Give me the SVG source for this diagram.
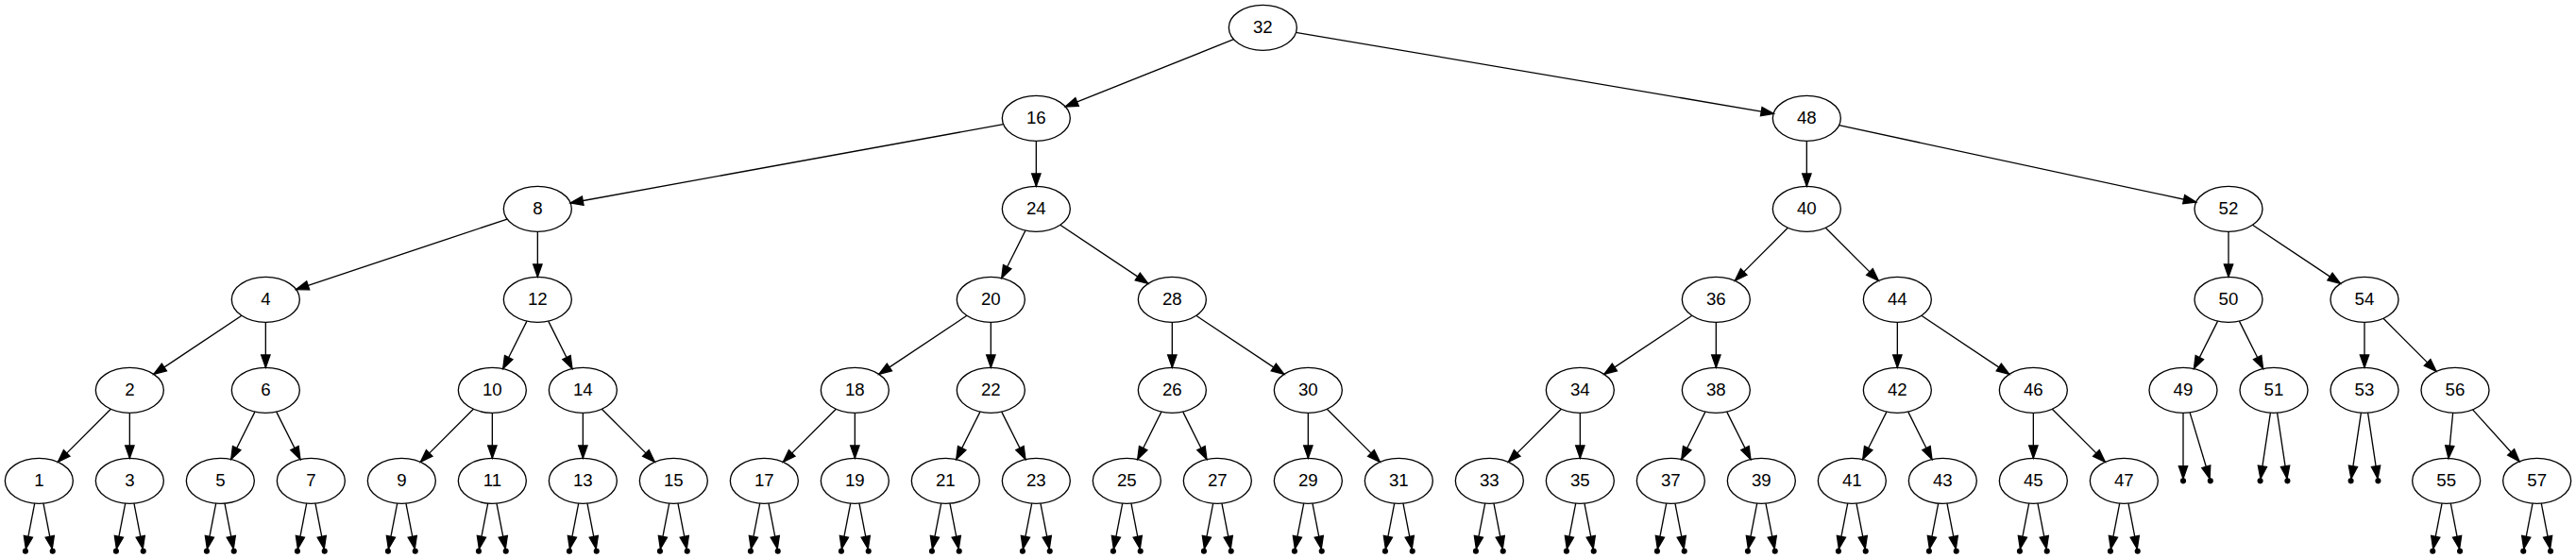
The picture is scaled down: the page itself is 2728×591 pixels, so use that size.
<svg xmlns="http://www.w3.org/2000/svg" width="2728" height="591" viewBox="0 0 2728 591">
<style>
.e{stroke:#000;stroke-width:1;fill:none;marker-end:url(#ah)}
.node ellipse{fill:none;stroke:#000;stroke-width:1}
.node text{font-family:"Liberation Sans",Arial,sans-serif;font-size:14px;text-anchor:middle;fill:#000}
.pt circle{fill:#000;stroke:#000;stroke-width:1}
</style>
<defs>
<marker id="ah" markerUnits="userSpaceOnUse" markerWidth="12" markerHeight="9" refX="10" refY="0" orient="auto" overflow="visible">
<path d="M0,-3.5 L10,0 L0,3.5 Z" fill="#000" stroke="#000" stroke-width="1"/>
</marker>
</defs>
<rect x="0" y="0" width="2728" height="591" fill="#fff"/>
<g transform="scale(1.3333333)">
<g id="connectors">
<line class="e" x1="979.85" y1="31.26" x2="846.15" y2="84.74"/>
<line class="e" x1="1029.19" y1="25.73" x2="1408.81" y2="90.27"/>
<line class="e" x1="796.95" y1="98.74" x2="453.05" y2="161.26"/>
<line class="e" x1="823" y1="112" x2="823" y2="148"/>
<line class="e" x1="1435" y1="112" x2="1435" y2="148"/>
<line class="e" x1="1460.7" y1="99.52" x2="1744.3" y2="160.48"/>
<line class="e" x1="402.85" y1="174.05" x2="235.15" y2="229.95"/>
<line class="e" x1="427" y1="184" x2="427" y2="220"/>
<line class="e" x1="814.46" y1="183.08" x2="795.54" y2="220.92"/>
<line class="e" x1="842.09" y1="178.73" x2="911.91" y2="225.27"/>
<line class="e" x1="1420.02" y1="180.98" x2="1377.98" y2="223.02"/>
<line class="e" x1="1449.98" y1="180.98" x2="1492.02" y2="223.02"/>
<line class="e" x1="1770" y1="184" x2="1770" y2="220"/>
<line class="e" x1="1789.09" y1="178.73" x2="1858.91" y2="225.27"/>
<line class="e" x1="191.91" y1="250.73" x2="122.09" y2="297.27"/>
<line class="e" x1="211" y1="256" x2="211" y2="292"/>
<line class="e" x1="418.46" y1="255.08" x2="399.54" y2="292.92"/>
<line class="e" x1="435.54" y1="255.08" x2="454.46" y2="292.92"/>
<line class="e" x1="767.91" y1="250.73" x2="698.09" y2="297.27"/>
<line class="e" x1="787" y1="256" x2="787" y2="292"/>
<line class="e" x1="931" y1="256" x2="931" y2="292"/>
<line class="e" x1="950.09" y1="250.73" x2="1019.91" y2="297.27"/>
<line class="e" x1="1343.91" y1="250.73" x2="1274.09" y2="297.27"/>
<line class="e" x1="1363" y1="256" x2="1363" y2="292"/>
<line class="e" x1="1507" y1="256" x2="1507" y2="292"/>
<line class="e" x1="1526.09" y1="250.73" x2="1595.91" y2="297.27"/>
<line class="e" x1="1761.46" y1="255.08" x2="1742.54" y2="292.92"/>
<line class="e" x1="1778.54" y1="255.08" x2="1797.46" y2="292.92"/>
<line class="e" x1="1878" y1="256" x2="1878" y2="292"/>
<line class="e" x1="1892.98" y1="252.98" x2="1935.02" y2="295.02"/>
<line class="e" x1="88.02" y1="324.98" x2="45.98" y2="367.02"/>
<line class="e" x1="103" y1="328" x2="103" y2="364"/>
<line class="e" x1="202.46" y1="327.08" x2="183.54" y2="364.92"/>
<line class="e" x1="219.54" y1="327.08" x2="238.46" y2="364.92"/>
<line class="e" x1="376.02" y1="324.98" x2="333.98" y2="367.02"/>
<line class="e" x1="391" y1="328" x2="391" y2="364"/>
<line class="e" x1="463" y1="328" x2="463" y2="364"/>
<line class="e" x1="477.98" y1="324.98" x2="520.02" y2="367.02"/>
<line class="e" x1="664.02" y1="324.98" x2="621.98" y2="367.02"/>
<line class="e" x1="679" y1="328" x2="679" y2="364"/>
<line class="e" x1="778.46" y1="327.08" x2="759.54" y2="364.92"/>
<line class="e" x1="795.54" y1="327.08" x2="814.46" y2="364.92"/>
<line class="e" x1="922.46" y1="327.08" x2="903.54" y2="364.92"/>
<line class="e" x1="939.54" y1="327.08" x2="958.46" y2="364.92"/>
<line class="e" x1="1039" y1="328" x2="1039" y2="364"/>
<line class="e" x1="1053.98" y1="324.98" x2="1096.02" y2="367.02"/>
<line class="e" x1="1240.02" y1="324.98" x2="1197.98" y2="367.02"/>
<line class="e" x1="1255" y1="328" x2="1255" y2="364"/>
<line class="e" x1="1354.46" y1="327.08" x2="1335.54" y2="364.92"/>
<line class="e" x1="1371.54" y1="327.08" x2="1390.46" y2="364.92"/>
<line class="e" x1="1498.46" y1="327.08" x2="1479.54" y2="364.92"/>
<line class="e" x1="1515.54" y1="327.08" x2="1534.46" y2="364.92"/>
<line class="e" x1="1615" y1="328" x2="1615" y2="364"/>
<line class="e" x1="1629.98" y1="324.98" x2="1672.02" y2="367.02"/>
<line class="e" x1="1948.25" y1="327.96" x2="1944.75" y2="364.04"/>
<line class="e" x1="1963.92" y1="325.42" x2="2001.08" y2="366.58"/>
<line class="e" x1="1734" y1="328" x2="1734" y2="380.2"/>
<line class="e" x1="1739.3" y1="327.65" x2="1755.08" y2="380.28"/>
<line class="e" x1="1803.31" y1="327.91" x2="1795.47" y2="380.22"/>
<line class="e" x1="1808.69" y1="327.91" x2="1816.53" y2="380.22"/>
<line class="e" x1="1875.31" y1="327.91" x2="1867.47" y2="380.22"/>
<line class="e" x1="1880.69" y1="327.91" x2="1888.53" y2="380.22"/>
<line class="e" x1="27.54" y1="399.85" x2="20.54" y2="436.03"/><line class="e" x1="34.46" y1="399.85" x2="41.46" y2="436.03"/>
<line class="e" x1="99.54" y1="399.85" x2="92.54" y2="436.03"/><line class="e" x1="106.46" y1="399.85" x2="113.46" y2="436.03"/>
<line class="e" x1="171.54" y1="399.85" x2="164.54" y2="436.03"/><line class="e" x1="178.46" y1="399.85" x2="185.46" y2="436.03"/>
<line class="e" x1="243.54" y1="399.85" x2="236.54" y2="436.03"/><line class="e" x1="250.46" y1="399.85" x2="257.46" y2="436.03"/>
<line class="e" x1="315.54" y1="399.85" x2="308.54" y2="436.03"/><line class="e" x1="322.46" y1="399.85" x2="329.46" y2="436.03"/>
<line class="e" x1="387.54" y1="399.85" x2="380.54" y2="436.03"/><line class="e" x1="394.46" y1="399.85" x2="401.46" y2="436.03"/>
<line class="e" x1="459.54" y1="399.85" x2="452.54" y2="436.03"/><line class="e" x1="466.46" y1="399.85" x2="473.46" y2="436.03"/>
<line class="e" x1="531.54" y1="399.85" x2="524.54" y2="436.03"/><line class="e" x1="538.46" y1="399.85" x2="545.46" y2="436.03"/>
<line class="e" x1="603.54" y1="399.85" x2="596.54" y2="436.03"/><line class="e" x1="610.46" y1="399.85" x2="617.46" y2="436.03"/>
<line class="e" x1="675.54" y1="399.85" x2="668.54" y2="436.03"/><line class="e" x1="682.46" y1="399.85" x2="689.46" y2="436.03"/>
<line class="e" x1="747.54" y1="399.85" x2="740.54" y2="436.03"/><line class="e" x1="754.46" y1="399.85" x2="761.46" y2="436.03"/>
<line class="e" x1="819.54" y1="399.85" x2="812.54" y2="436.03"/><line class="e" x1="826.46" y1="399.85" x2="833.46" y2="436.03"/>
<line class="e" x1="891.54" y1="399.85" x2="884.54" y2="436.03"/><line class="e" x1="898.46" y1="399.85" x2="905.46" y2="436.03"/>
<line class="e" x1="963.54" y1="399.85" x2="956.54" y2="436.03"/><line class="e" x1="970.46" y1="399.85" x2="977.46" y2="436.03"/>
<line class="e" x1="1035.54" y1="399.85" x2="1028.54" y2="436.03"/><line class="e" x1="1042.46" y1="399.85" x2="1049.46" y2="436.03"/>
<line class="e" x1="1107.54" y1="399.85" x2="1100.54" y2="436.03"/><line class="e" x1="1114.46" y1="399.85" x2="1121.46" y2="436.03"/>
<line class="e" x1="1179.54" y1="399.85" x2="1172.54" y2="436.03"/><line class="e" x1="1186.46" y1="399.85" x2="1193.46" y2="436.03"/>
<line class="e" x1="1251.54" y1="399.85" x2="1244.54" y2="436.03"/><line class="e" x1="1258.46" y1="399.85" x2="1265.46" y2="436.03"/>
<line class="e" x1="1323.54" y1="399.85" x2="1316.54" y2="436.03"/><line class="e" x1="1330.46" y1="399.85" x2="1337.46" y2="436.03"/>
<line class="e" x1="1395.54" y1="399.85" x2="1388.54" y2="436.03"/><line class="e" x1="1402.46" y1="399.85" x2="1409.46" y2="436.03"/>
<line class="e" x1="1467.54" y1="399.85" x2="1460.54" y2="436.03"/><line class="e" x1="1474.46" y1="399.85" x2="1481.46" y2="436.03"/>
<line class="e" x1="1539.54" y1="399.85" x2="1532.54" y2="436.03"/><line class="e" x1="1546.46" y1="399.85" x2="1553.46" y2="436.03"/>
<line class="e" x1="1611.54" y1="399.85" x2="1604.54" y2="436.03"/><line class="e" x1="1618.46" y1="399.85" x2="1625.46" y2="436.03"/>
<line class="e" x1="1683.54" y1="399.85" x2="1676.54" y2="436.03"/><line class="e" x1="1690.46" y1="399.85" x2="1697.46" y2="436.03"/>
<line class="e" x1="1939.54" y1="399.85" x2="1932.54" y2="436.03"/><line class="e" x1="1946.46" y1="399.85" x2="1953.46" y2="436.03"/>
<line class="e" x1="2011.54" y1="399.85" x2="2004.54" y2="436.03"/><line class="e" x1="2018.46" y1="399.85" x2="2025.46" y2="436.03"/>
</g>
<g id="n32" class="node"><ellipse cx="1003" cy="22" rx="27" ry="18"/><text x="1003" y="26.2">32</text></g>
<g id="n16" class="node"><ellipse cx="823" cy="94" rx="27" ry="18"/><text x="823" y="98.2">16</text></g>
<g id="n48" class="node"><ellipse cx="1435" cy="94" rx="27" ry="18"/><text x="1435" y="98.2">48</text></g>
<g id="n8" class="node"><ellipse cx="427" cy="166" rx="27" ry="18"/><text x="427" y="170.2">8</text></g>
<g id="n24" class="node"><ellipse cx="823" cy="166" rx="27" ry="18"/><text x="823" y="170.2">24</text></g>
<g id="n40" class="node"><ellipse cx="1435" cy="166" rx="27" ry="18"/><text x="1435" y="170.2">40</text></g>
<g id="n52" class="node"><ellipse cx="1770" cy="166" rx="27" ry="18"/><text x="1770" y="170.2">52</text></g>
<g id="n4" class="node"><ellipse cx="211" cy="238" rx="27" ry="18"/><text x="211" y="242.2">4</text></g>
<g id="n12" class="node"><ellipse cx="427" cy="238" rx="27" ry="18"/><text x="427" y="242.2">12</text></g>
<g id="n20" class="node"><ellipse cx="787" cy="238" rx="27" ry="18"/><text x="787" y="242.2">20</text></g>
<g id="n28" class="node"><ellipse cx="931" cy="238" rx="27" ry="18"/><text x="931" y="242.2">28</text></g>
<g id="n36" class="node"><ellipse cx="1363" cy="238" rx="27" ry="18"/><text x="1363" y="242.2">36</text></g>
<g id="n44" class="node"><ellipse cx="1507" cy="238" rx="27" ry="18"/><text x="1507" y="242.2">44</text></g>
<g id="n50" class="node"><ellipse cx="1770" cy="238" rx="27" ry="18"/><text x="1770" y="242.2">50</text></g>
<g id="n54" class="node"><ellipse cx="1878" cy="238" rx="27" ry="18"/><text x="1878" y="242.2">54</text></g>
<g id="n2" class="node"><ellipse cx="103" cy="310" rx="27" ry="18"/><text x="103" y="314.2">2</text></g>
<g id="n6" class="node"><ellipse cx="211" cy="310" rx="27" ry="18"/><text x="211" y="314.2">6</text></g>
<g id="n10" class="node"><ellipse cx="391" cy="310" rx="27" ry="18"/><text x="391" y="314.2">10</text></g>
<g id="n14" class="node"><ellipse cx="463" cy="310" rx="27" ry="18"/><text x="463" y="314.2">14</text></g>
<g id="n18" class="node"><ellipse cx="679" cy="310" rx="27" ry="18"/><text x="679" y="314.2">18</text></g>
<g id="n22" class="node"><ellipse cx="787" cy="310" rx="27" ry="18"/><text x="787" y="314.2">22</text></g>
<g id="n26" class="node"><ellipse cx="931" cy="310" rx="27" ry="18"/><text x="931" y="314.2">26</text></g>
<g id="n30" class="node"><ellipse cx="1039" cy="310" rx="27" ry="18"/><text x="1039" y="314.2">30</text></g>
<g id="n34" class="node"><ellipse cx="1255" cy="310" rx="27" ry="18"/><text x="1255" y="314.2">34</text></g>
<g id="n38" class="node"><ellipse cx="1363" cy="310" rx="27" ry="18"/><text x="1363" y="314.2">38</text></g>
<g id="n42" class="node"><ellipse cx="1507" cy="310" rx="27" ry="18"/><text x="1507" y="314.2">42</text></g>
<g id="n46" class="node"><ellipse cx="1615" cy="310" rx="27" ry="18"/><text x="1615" y="314.2">46</text></g>
<g id="n49" class="node"><ellipse cx="1734" cy="310" rx="27" ry="18"/><text x="1734" y="314.2">49</text></g>
<g id="n51" class="node"><ellipse cx="1806" cy="310" rx="27" ry="18"/><text x="1806" y="314.2">51</text></g>
<g id="n53" class="node"><ellipse cx="1878" cy="310" rx="27" ry="18"/><text x="1878" y="314.2">53</text></g>
<g id="n56" class="node"><ellipse cx="1950" cy="310" rx="27" ry="18"/><text x="1950" y="314.2">56</text></g>
<g id="n1" class="node"><ellipse cx="31" cy="382" rx="27" ry="18"/><text x="31" y="386.2">1</text></g>
<g id="n3" class="node"><ellipse cx="103" cy="382" rx="27" ry="18"/><text x="103" y="386.2">3</text></g>
<g id="n5" class="node"><ellipse cx="175" cy="382" rx="27" ry="18"/><text x="175" y="386.2">5</text></g>
<g id="n7" class="node"><ellipse cx="247" cy="382" rx="27" ry="18"/><text x="247" y="386.2">7</text></g>
<g id="n9" class="node"><ellipse cx="319" cy="382" rx="27" ry="18"/><text x="319" y="386.2">9</text></g>
<g id="n11" class="node"><ellipse cx="391" cy="382" rx="27" ry="18"/><text x="391" y="386.2">11</text></g>
<g id="n13" class="node"><ellipse cx="463" cy="382" rx="27" ry="18"/><text x="463" y="386.2">13</text></g>
<g id="n15" class="node"><ellipse cx="535" cy="382" rx="27" ry="18"/><text x="535" y="386.2">15</text></g>
<g id="n17" class="node"><ellipse cx="607" cy="382" rx="27" ry="18"/><text x="607" y="386.2">17</text></g>
<g id="n19" class="node"><ellipse cx="679" cy="382" rx="27" ry="18"/><text x="679" y="386.2">19</text></g>
<g id="n21" class="node"><ellipse cx="751" cy="382" rx="27" ry="18"/><text x="751" y="386.2">21</text></g>
<g id="n23" class="node"><ellipse cx="823" cy="382" rx="27" ry="18"/><text x="823" y="386.2">23</text></g>
<g id="n25" class="node"><ellipse cx="895" cy="382" rx="27" ry="18"/><text x="895" y="386.2">25</text></g>
<g id="n27" class="node"><ellipse cx="967" cy="382" rx="27" ry="18"/><text x="967" y="386.2">27</text></g>
<g id="n29" class="node"><ellipse cx="1039" cy="382" rx="27" ry="18"/><text x="1039" y="386.2">29</text></g>
<g id="n31" class="node"><ellipse cx="1111" cy="382" rx="27" ry="18"/><text x="1111" y="386.2">31</text></g>
<g id="n33" class="node"><ellipse cx="1183" cy="382" rx="27" ry="18"/><text x="1183" y="386.2">33</text></g>
<g id="n35" class="node"><ellipse cx="1255" cy="382" rx="27" ry="18"/><text x="1255" y="386.2">35</text></g>
<g id="n37" class="node"><ellipse cx="1327" cy="382" rx="27" ry="18"/><text x="1327" y="386.2">37</text></g>
<g id="n39" class="node"><ellipse cx="1399" cy="382" rx="27" ry="18"/><text x="1399" y="386.2">39</text></g>
<g id="n41" class="node"><ellipse cx="1471" cy="382" rx="27" ry="18"/><text x="1471" y="386.2">41</text></g>
<g id="n43" class="node"><ellipse cx="1543" cy="382" rx="27" ry="18"/><text x="1543" y="386.2">43</text></g>
<g id="n45" class="node"><ellipse cx="1615" cy="382" rx="27" ry="18"/><text x="1615" y="386.2">45</text></g>
<g id="n47" class="node"><ellipse cx="1687" cy="382" rx="27" ry="18"/><text x="1687" y="386.2">47</text></g>
<g id="n55" class="node"><ellipse cx="1943" cy="382" rx="27" ry="18"/><text x="1943" y="386.2">55</text></g>
<g id="n57" class="node"><ellipse cx="2015" cy="382" rx="27" ry="18"/><text x="2015" y="386.2">57</text></g>
<g id="nil49" class="pt"><circle cx="1734" cy="382" r="1.8"/><circle cx="1755.6" cy="382" r="1.8"/></g>
<g id="nil51" class="pt"><circle cx="1795.2" cy="382" r="1.8"/><circle cx="1816.8" cy="382" r="1.8"/></g>
<g id="nil53" class="pt"><circle cx="1867.2" cy="382" r="1.8"/><circle cx="1888.8" cy="382" r="1.8"/></g>
<g id="nil1" class="pt"><circle cx="20.2" cy="437.8" r="1.8"/><circle cx="41.8" cy="437.8" r="1.8"/></g>
<g id="nil3" class="pt"><circle cx="92.2" cy="437.8" r="1.8"/><circle cx="113.8" cy="437.8" r="1.8"/></g>
<g id="nil5" class="pt"><circle cx="164.2" cy="437.8" r="1.8"/><circle cx="185.8" cy="437.8" r="1.8"/></g>
<g id="nil7" class="pt"><circle cx="236.2" cy="437.8" r="1.8"/><circle cx="257.8" cy="437.8" r="1.8"/></g>
<g id="nil9" class="pt"><circle cx="308.2" cy="437.8" r="1.8"/><circle cx="329.8" cy="437.8" r="1.8"/></g>
<g id="nil11" class="pt"><circle cx="380.2" cy="437.8" r="1.8"/><circle cx="401.8" cy="437.8" r="1.8"/></g>
<g id="nil13" class="pt"><circle cx="452.2" cy="437.8" r="1.8"/><circle cx="473.8" cy="437.8" r="1.8"/></g>
<g id="nil15" class="pt"><circle cx="524.2" cy="437.8" r="1.8"/><circle cx="545.8" cy="437.8" r="1.8"/></g>
<g id="nil17" class="pt"><circle cx="596.2" cy="437.8" r="1.8"/><circle cx="617.8" cy="437.8" r="1.8"/></g>
<g id="nil19" class="pt"><circle cx="668.2" cy="437.8" r="1.8"/><circle cx="689.8" cy="437.8" r="1.8"/></g>
<g id="nil21" class="pt"><circle cx="740.2" cy="437.8" r="1.8"/><circle cx="761.8" cy="437.8" r="1.8"/></g>
<g id="nil23" class="pt"><circle cx="812.2" cy="437.8" r="1.8"/><circle cx="833.8" cy="437.8" r="1.8"/></g>
<g id="nil25" class="pt"><circle cx="884.2" cy="437.8" r="1.8"/><circle cx="905.8" cy="437.8" r="1.8"/></g>
<g id="nil27" class="pt"><circle cx="956.2" cy="437.8" r="1.8"/><circle cx="977.8" cy="437.8" r="1.8"/></g>
<g id="nil29" class="pt"><circle cx="1028.2" cy="437.8" r="1.8"/><circle cx="1049.8" cy="437.8" r="1.8"/></g>
<g id="nil31" class="pt"><circle cx="1100.2" cy="437.8" r="1.8"/><circle cx="1121.8" cy="437.8" r="1.8"/></g>
<g id="nil33" class="pt"><circle cx="1172.2" cy="437.8" r="1.8"/><circle cx="1193.8" cy="437.8" r="1.8"/></g>
<g id="nil35" class="pt"><circle cx="1244.2" cy="437.8" r="1.8"/><circle cx="1265.8" cy="437.8" r="1.8"/></g>
<g id="nil37" class="pt"><circle cx="1316.2" cy="437.8" r="1.8"/><circle cx="1337.8" cy="437.8" r="1.8"/></g>
<g id="nil39" class="pt"><circle cx="1388.2" cy="437.8" r="1.8"/><circle cx="1409.8" cy="437.8" r="1.8"/></g>
<g id="nil41" class="pt"><circle cx="1460.2" cy="437.8" r="1.8"/><circle cx="1481.8" cy="437.8" r="1.8"/></g>
<g id="nil43" class="pt"><circle cx="1532.2" cy="437.8" r="1.8"/><circle cx="1553.8" cy="437.8" r="1.8"/></g>
<g id="nil45" class="pt"><circle cx="1604.2" cy="437.8" r="1.8"/><circle cx="1625.8" cy="437.8" r="1.8"/></g>
<g id="nil47" class="pt"><circle cx="1676.2" cy="437.8" r="1.8"/><circle cx="1697.8" cy="437.8" r="1.8"/></g>
<g id="nil55" class="pt"><circle cx="1932.2" cy="437.8" r="1.8"/><circle cx="1953.8" cy="437.8" r="1.8"/></g>
<g id="nil57" class="pt"><circle cx="2004.2" cy="437.8" r="1.8"/><circle cx="2025.8" cy="437.8" r="1.8"/></g>
</g>
</svg>
